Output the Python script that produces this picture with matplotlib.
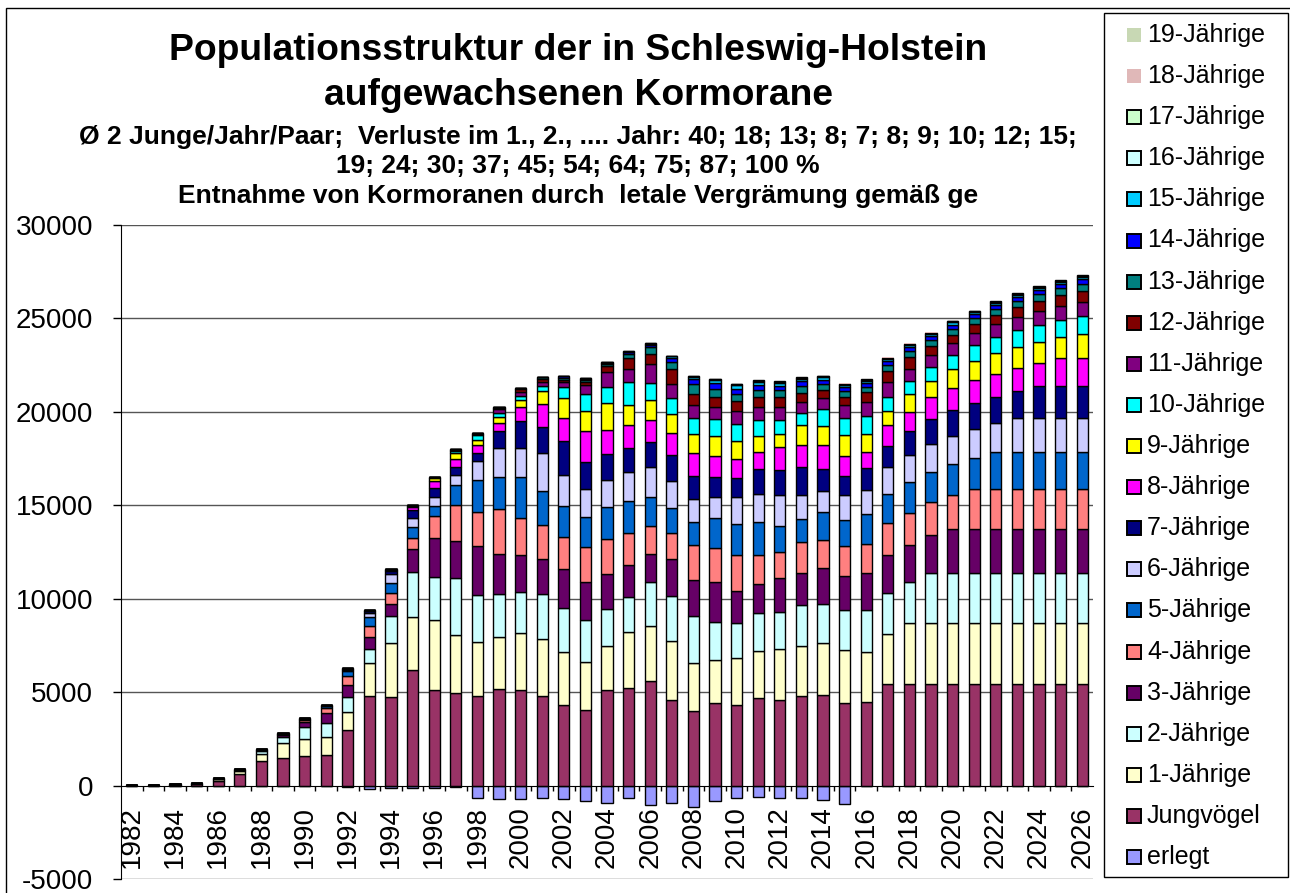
import matplotlib.pyplot as plt
import numpy as np
from matplotlib.patches import Rectangle

plt.rcParams['font.family'] = ['Liberation Sans', 'DejaVu Sans']

years = list(range(1982, 2027))

erlegt = [0, 0, 0, 0, 0, 0, 0, 0, -40, -40, -100, -200, -150, -120, -120, -100,
          -680, -720, -720, -660, -720, -840, -930, -680, -1040, -950, -1160, -800,
          -680, -630, -680, -680, -770, -1000, 0, 0, 0, 0, 0, 0, 0, 0, 0, 0, 0]

jung = [20, 30, 50, 70, 250, 620, 1340, 1480, 1605, 1640, 2950, 4810, 4730, 6200,
        5140, 4960, 4780, 5170, 5140, 4780, 4330, 4070, 5100, 5220, 5580, 4560, 3980,
        4420, 4330, 4690, 4600, 4780, 4870, 4420, 4490, 5440, 5440, 5440, 5440, 5440,
        5440, 5440, 5440, 5440, 5440]
j1 = [0, 12, 18, 30, 80, 150, 372, 804, 888, 963, 984, 1770, 2888, 2835, 3720, 3081,
      2900, 2800, 3000, 3040, 2800, 2550, 2360, 3000, 2980, 3160, 2600, 2290, 2500,
      2500, 2720, 2700, 2780, 2820, 2674, 2674, 3270, 3270, 3270, 3270, 3270, 3270,
      3270, 3270, 3270]
j2 = [0, 0, 10, 15, 40, 65, 123, 305, 659, 728, 790, 740, 1451, 2368, 2325, 3050, 2500,
      2290, 2220, 2430, 2380, 2220, 2000, 1880, 2340, 2420, 2470, 2040, 1870, 2050,
      1960, 2200, 2070, 2150, 2234, 2196, 2177, 2680, 2680, 2680, 2680, 2680, 2680,
      2680, 2680]
j3 = [0, 0, 0, 8, 15, 35, 57, 107, 265, 573, 633, 650, 644, 1262, 2060, 2023, 2620,
      2150, 1990, 1900, 2070, 2040, 1880, 1700, 1500, 2010, 1970, 2140, 1720, 1530,
      1820, 1680, 1900, 1800, 1968, 2006, 1968, 2005, 2330, 2330, 2330, 2330, 2330,
      2330, 2330]
j4 = [0, 0, 0, 0, 5, 14, 32, 52, 98, 244, 527, 582, 598, 592, 1161, 1895, 1855, 2410,
      1950, 1810, 1720, 1880, 1840, 1700, 1480, 1370, 1850, 1830, 1910, 1555, 1380,
      1650, 1545, 1620, 1585, 1757, 1757, 1757, 1815, 2144, 2144, 2144, 2144, 2144, 2144]
j5 = [0, 0, 0, 0, 0, 5, 13, 30, 48, 91, 227, 490, 541, 556, 551, 1080, 1720, 1690,
      2220, 1800, 1660, 1590, 1745, 1720, 1570, 1350, 1220, 1600, 1660, 1780, 1420,
      1270, 1480, 1426, 1566, 1528, 1642, 1623, 1661, 1688, 1994, 1994, 1994, 1994, 1994]
j6 = [0, 0, 0, 0, 0, 0, 5, 12, 28, 44, 84, 209, 451, 498, 512, 507, 970, 1570, 1540,
      2020, 1650, 1500, 1440, 1560, 1580, 1420, 1220, 1100, 1460, 1480, 1650, 1270,
      1120, 1338, 1299, 1432, 1433, 1528, 1528, 1528, 1553, 1834, 1834, 1834, 1834]
j7 = [0, 0, 0, 0, 0, 0, 0, 5, 11, 25, 40, 76, 190, 410, 453, 466, 470, 880, 1425,
      1390, 1830, 1490, 1380, 1290, 1375, 1420, 1250, 1120, 1000, 1360, 1330, 1510,
      1170, 1010, 1184, 1146, 1280, 1299, 1356, 1390, 1390, 1413, 1669, 1669, 1669]
j8 = [0, 0, 0, 0, 0, 0, 0, 0, 4, 10, 23, 36, 68, 171, 369, 408, 390, 420, 770, 1250,
      1240, 1620, 1270, 1220, 1165, 1180, 1230, 1090, 1020, 900, 1240, 1175, 1290,
      1060, 860, 1108, 1050, 1185, 1185, 1220, 1251, 1251, 1272, 1502, 1502]
j9 = [0, 0, 0, 0, 0, 0, 0, 0, 0, 4, 9, 20, 32, 60, 150, 325, 300, 330, 360, 670, 1080,
      1085, 1440, 1080, 1045, 980, 1050, 1070, 950, 860, 720, 1070, 1035, 1110, 955,
      764, 955, 860, 1012, 1043, 1074, 1101, 1101, 1119, 1322]
j10 = [0, 0, 0, 0, 0, 0, 0, 0, 0, 0, 0, 8, 17, 27, 51, 128, 230, 250, 260, 305, 570,
       925, 900, 1230, 930, 880, 835, 900, 905, 835, 720, 640, 910, 900, 955, 764, 669,
       764, 764, 860, 887, 913, 936, 936, 951]
j11 = [0, 0, 0, 0, 0, 0, 0, 0, 0, 0, 0, 0, 6, 14, 22, 41, 95, 185, 210, 200, 245, 455,
       755, 715, 1000, 760, 710, 675, 735, 718, 678, 583, 560, 700, 764, 802, 668, 611,
       649, 619, 697, 718, 740, 758, 758]
j12 = [0, 0, 0, 0, 0, 0, 0, 0, 0, 0, 0, 0, 0, 5, 11, 17, 32, 72, 140, 160, 150, 180,
       335, 560, 540, 770, 585, 540, 500, 550, 550, 500, 446, 430, 515, 573, 611, 477,
       440, 493, 470, 530, 546, 562, 576]
j13 = [0, 0, 0, 0, 0, 0, 0, 0, 0, 0, 0, 0, 0, 0, 4, 8, 12, 22, 50, 95, 110, 100, 125,
       230, 370, 380, 535, 410, 390, 352, 370, 380, 330, 320, 287, 344, 344, 344, 324,
       308, 345, 329, 371, 382, 393]
j14 = [0, 0, 0, 0, 0, 0, 0, 0, 0, 0, 0, 0, 0, 0, 0, 3, 5, 8, 15, 32, 60, 65, 63, 80,
       145, 230, 245, 337, 281, 260, 225, 224, 224, 210, 224, 181, 217, 217, 217, 204,
       194, 217, 207, 234, 241]
j15 = [0, 0, 0, 0, 0, 0, 0, 0, 0, 0, 0, 0, 0, 0, 0, 0, 0, 3, 4, 8, 18, 33, 35, 35, 44,
       80, 125, 135, 185, 155, 143, 124, 123, 123, 105, 123, 100, 119, 119, 119, 112,
       107, 119, 114, 129]
j16 = [0, 0, 0, 0, 0, 0, 0, 0, 0, 0, 0, 0, 0, 0, 0, 0, 0, 0, 1, 2, 4, 8, 15, 16, 16,
       20, 36, 57, 62, 85, 71, 66, 57, 57, 57, 48, 57, 46, 55, 55, 55, 52, 49, 55, 52]
j17 = [0, 0, 0, 0, 0, 0, 0, 0, 0, 0, 0, 0, 0, 0, 0, 0, 0, 0, 0, 0, 1, 1, 3, 5, 6, 6,
       7, 13, 20, 22, 30, 26, 24, 20, 20, 20, 17, 20, 17, 20, 20, 20, 19, 18, 20]
j18 = [0, 0, 0, 0, 0, 0, 0, 0, 0, 0, 0, 0, 0, 0, 0, 0, 0, 0, 0, 0, 0, 0, 0, 1, 1, 1,
       2, 2, 5, 5, 6, 8, 7, 6, 6, 5, 5, 5, 5, 4, 5, 5, 5, 5, 5]
j19 = [0, 0, 0, 0, 0, 0, 0, 0, 0, 0, 0, 0, 0, 0, 0, 0, 0, 0, 0, 0, 0, 0, 0, 0, 0, 0,
       0, 0, 0, 1, 1, 1, 1, 1, 1, 1, 1, 1, 1, 1, 1, 1, 1, 1, 1]

series = [jung, j1, j2, j3, j4, j5, j6, j7, j8, j9, j10, j11, j12, j13, j14, j15,
          j16, j17, j18, j19]
labels = ['Jungvögel'] + [f'{i}-Jährige' for i in range(1, 20)]
colors = ['#993366', '#FFFFCC', '#CCFFFF', '#660066', '#FF8080', '#0066CC', '#CCCCFF',
          '#000080', '#FF00FF', '#FFFF00', '#00FFFF', '#800080', '#800000', '#008080',
          '#0000FF', '#00CCFF', '#CCFFFF', '#CCFFCC', '#E0B8B8', '#C8D8B4']
col_erlegt = '#9999FF'

W, H = 1290, 893
fig = plt.figure(figsize=(W / 100, H / 100), dpi=100)
ax = fig.add_axes([121 / W, 1 - 879 / H, (1093 - 121) / W, (879 - 225) / H])

# gestapelte Balken
bw = 0.52
ax.bar(years, erlegt, width=bw, color=col_erlegt, edgecolor='black', linewidth=1.0, zorder=3)
bottom = np.zeros(len(years))
for k, vals in enumerate(series):
    ec = 'none' if k >= 18 else 'black'
    ax.bar(years, vals, width=bw, bottom=bottom, color=colors[k], edgecolor=ec,
           linewidth=1.0, zorder=3)
    bottom = bottom + np.array(vals)

ax.set_xlim(1981.5, 2026.5)
ax.set_ylim(-5000, 30000)

for g in range(-5000, 30001, 5000):
    if g != 0:
        ax.axhline(g, color='#555555', lw=1.0, zorder=1)

ax.spines['top'].set_visible(False)
ax.spines['right'].set_visible(False)
ax.spines['bottom'].set_position(('data', 0))
ax.spines['bottom'].set_zorder(4)

ax.set_yticks(range(-5000, 30001, 5000))
ax.set_yticklabels([str(v) for v in range(-5000, 30001, 5000)], fontsize=20)
ax.tick_params(axis='y', direction='out', length=6, width=1, pad=14)

ax.set_xticks(range(1982, 2027, 2))
ax.set_xticklabels([str(y) for y in range(1982, 2027, 2)], rotation=90, fontsize=20)
ax.set_xticks(np.arange(1982.5, 2026.5, 1), minor=True)
ax.tick_params(axis='x', which='major', length=0, pad=15)
ax.tick_params(axis='x', which='minor', direction='out', length=3.5, width=1)

# Titel
cx = 578 / W
fig.text(cx, 1 - 60 / H, 'Populationsstruktur der in Schleswig-Holstein', ha='center',
         va='baseline', fontsize=26.8, fontweight='bold')
fig.text(cx, 1 - 105 / H, 'aufgewachsenen Kormorane', ha='center', va='baseline',
         fontsize=26.8, fontweight='bold')
fig.text(cx, 1 - 144 / H, 'Ø 2 Junge/Jahr/Paar;  Verluste im 1., 2., .... Jahr: 40; 18; 13; 8; 7; 8; 9; 10; 12; 15;',
         ha='center', va='baseline', fontsize=19, fontweight='bold')
fig.text(cx, 1 - 173 / H, '19; 24; 30; 37; 45; 54; 64; 75; 87; 100 %', ha='center',
         va='baseline', fontsize=19, fontweight='bold')
fig.text(cx, 1 - 203 / H, 'Entnahme von Kormoranen durch  letale Vergrämung gemäß ge',
         ha='center', va='baseline', fontsize=19, fontweight='bold')

# Rahmen um das Diagramm
fig.patches.append(Rectangle((6 / W, -0.02), 1.1, 1 - 8 / H + 0.02, transform=fig.transFigure,
                             fill=False, edgecolor='black', lw=1))

# Legende von Hand (oben 19-Jährige, unten erlegt)
fig.patches.append(Rectangle((1104 / W, 1 - 877 / H), (1288 - 1104) / W, (877 - 13) / H,
                             transform=fig.transFigure, facecolor='white',
                             edgecolor='black', lw=1, zorder=5))
leg_items = list(zip(labels, colors))[::-1] + [('erlegt', col_erlegt)]
for i, (lab, c) in enumerate(leg_items):
    yc = 35 + i * 41.1
    ec = 'none' if lab in ('18-Jährige', '19-Jährige') else 'black'
    fig.patches.append(Rectangle((1127 / W, 1 - (yc + 7) / H), 14 / W, 14 / H,
                                 transform=fig.transFigure, facecolor=c, edgecolor=ec,
                                 lw=1.4, zorder=6))
    fig.text(1147 / W, 1 - yc / H, lab, ha='left', va='center', fontsize=18, zorder=6)

fig.savefig('out.png', dpi=100)
